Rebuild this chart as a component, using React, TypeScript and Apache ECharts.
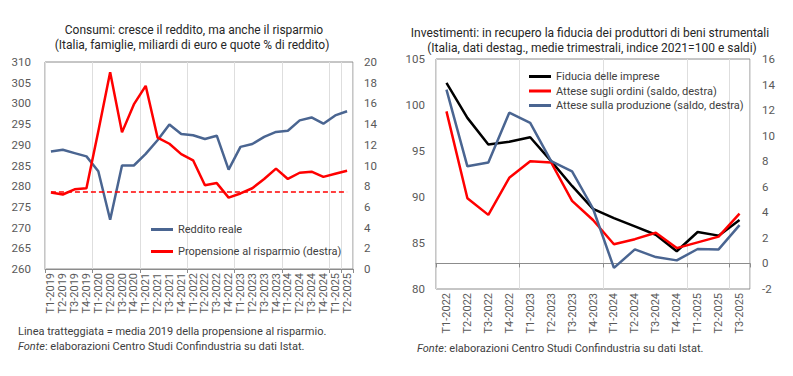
import React, { useEffect, useRef } from "react";
import * as echarts from "echarts";

// ---------- Left chart data ----------
const trimestriSx = [
  "T1-2019", "T2-2019", "T3-2019", "T4-2019",
  "T1-2020", "T2-2020", "T3-2020", "T4-2020",
  "T1-2021", "T2-2021", "T3-2021", "T4-2021",
  "T1-2022", "T2-2022", "T3-2022", "T4-2022",
  "T1-2023", "T2-2023", "T3-2023", "T4-2023",
  "T1-2024", "T2-2024", "T3-2024", "T4-2024",
  "T1-2025", "T2-2025",
];
const redditoReale = [
  288.4, 288.8, 288.0, 287.2, 283.6, 271.9, 285.0, 285.0, 287.8, 291.1,
  294.9, 292.6, 292.3, 291.4, 292.2, 284.0, 289.5, 290.2, 291.9, 293.1,
  293.4, 295.9, 296.6, 295.1, 297.1, 298.1,
];
const propensioneRisparmio = [
  7.4, 7.2, 7.7, 7.8, 13.3, 19.0, 13.2, 15.9, 17.7, 12.7,
  12.1, 11.1, 10.5, 8.1, 8.3, 6.9, 7.3, 7.8, 8.7, 9.7,
  8.7, 9.3, 9.4, 8.9, 9.2, 9.5,
];
const MEDIA_2019 = 7.45;
const ticksSxSinistra = { min: 260, max: 310, interval: 5 };
const ticksSxDestra = { min: 0, max: 20, interval: 2 };

// ---------- Right chart data ----------
const trimestriDx = [
  "T1-2022", "T2-2022", "T3-2022", "T4-2022",
  "T1-2023", "T2-2023", "T3-2023", "T4-2023",
  "T1-2024", "T2-2024", "T3-2024", "T4-2024",
  "T1-2025", "T2-2025", "T3-2025",
];
const fiduciaImprese = [
  102.4, 98.6, 95.7, 96.0, 96.5, 93.9, 91.2, 88.7, 87.7, 86.8, 85.9, 84.1, 86.2, 85.8, 87.5,
];
const atteseOrdini = [
  11.9, 5.1, 3.8, 6.7, 8.0, 7.9, 4.9, 3.4, 1.5, 1.9, 2.4, 1.2, 1.65, 2.1, 3.9,
];
const atteseProduzione = [
  13.6, 7.6, 7.9, 11.8, 11.0, 8.0, 7.2, 4.3, -0.35, 1.1, 0.5, 0.24, 1.13, 1.1, 3.0,
];
const ticksDxSinistra = { min: 80, max: 105, interval: 5 };
const ticksDxDestra = { min: -2, max: 16, interval: 2 };

const BLUE = "#4a6591";
const RED = "#ff0000";
const BLACK = "#000000";
const AXIS_GREY = "#8c8c8c";
const LABEL = "#595959";
const FONT = "Roboto";

function xAxisFor(gridIndex: number, data: string[]) {
  return {
    type: "category" as const,
    gridIndex,
    data,
    boundaryGap: true,
    axisLine: { show: true, lineStyle: { color: AXIS_GREY, width: 1 } },
    axisTick: { show: true, interval: 3, length: 4, lineStyle: { color: AXIS_GREY } },
    axisLabel: { interval: 0, rotate: 90, fontSize: 11, color: LABEL, margin: 4, fontFamily: FONT },
    splitLine: { show: true, interval: 3, lineStyle: { color: "#dedede", width: 1 } },
  };
}

function yAxisFor(
  gridIndex: number,
  position: "left" | "right",
  t: { min: number; max: number; interval: number },
  margin: number
) {
  return {
    type: "value" as const,
    gridIndex,
    position,
    min: t.min,
    max: t.max,
    interval: t.interval,
    axisLine: { show: false },
    axisTick: { show: false },
    splitLine: { show: false },
    axisLabel: { fontSize: 11.5, color: LABEL, margin, fontFamily: FONT },
  };
}

function txt(x: number, y: number, text: string, size: number, fill: string, align = "center") {
  return {
    type: "text",
    silent: true,
    style: {
      x, y, text,
      align, verticalAlign: "middle",
      fontSize: size, fill, fontFamily: FONT,
      rich: { i: { fontStyle: "italic", fontSize: size, fill, fontFamily: FONT } },
    },
  };
}

export default function App() {
  const ref = useRef<HTMLDivElement>(null);

  useEffect(() => {
    if (!ref.current) return;
    const chart = echarts.init(ref.current, undefined, { renderer: "svg" });
    const lineBase = { type: "line" as const, symbol: "none", smooth: false, silent: true };
    const legendText = { fontSize: 11, color: "#404040", fontFamily: FONT };

    chart.setOption({
      animation: false,
      textStyle: { fontFamily: FONT },
      grid: [
        { left: 45, top: 62, width: 308, height: 207, show: true, borderColor: AXIS_GREY, borderWidth: 1, backgroundColor: "transparent" },
        { left: 436, top: 59, width: 314, height: 230, show: true, borderColor: AXIS_GREY, borderWidth: 1, backgroundColor: "transparent" },
      ],
      xAxis: [xAxisFor(0, trimestriSx), xAxisFor(1, trimestriDx)],
      yAxis: [
        yAxisFor(0, "left", ticksSxSinistra, 14),
        yAxisFor(0, "right", ticksSxDestra, 11),
        yAxisFor(1, "left", ticksDxSinistra, 11),
        yAxisFor(1, "right", ticksDxDestra, 12),
      ],
      legend: [
        {
          left: 146,
          top: 219,
          orient: "vertical",
          itemGap: 11,
          itemWidth: 22,
          itemHeight: 3,
          icon: "rect",
          textStyle: legendText,
          data: ["Reddito reale", "Propensione al risparmio (destra)"],
          selectedMode: false,
        },
        {
          left: 524,
          top: 66,
          orient: "vertical",
          itemGap: 3.5,
          itemWidth: 22,
          itemHeight: 3,
          icon: "rect",
          textStyle: legendText,
          data: [
            "Fiducia delle imprese",
            "Attese sugli ordini (saldo, destra)",
            "Attese sulla produzione (saldo, destra)",
          ],
          selectedMode: false,
        },
      ],
      series: [
        {
          ...lineBase,
          name: "Reddito reale",
          xAxisIndex: 0,
          yAxisIndex: 0,
          data: redditoReale,
          lineStyle: { color: BLUE, width: 2.5 },
          itemStyle: { color: BLUE },
          z: 3,
        },
        {
          ...lineBase,
          name: "Propensione al risparmio (destra)",
          xAxisIndex: 0,
          yAxisIndex: 1,
          data: propensioneRisparmio,
          lineStyle: { color: RED, width: 2.5 },
          itemStyle: { color: RED },
          z: 4,
          markLine: {
            silent: true,
            symbol: "none",
            label: { show: false },
            lineStyle: { color: RED, type: [5, 3], width: 1.5 },
            data: [[{ coord: [0, MEDIA_2019] }, { coord: [trimestriSx.length - 1, MEDIA_2019] }]],
          },
        },
        {
          ...lineBase,
          name: "Fiducia delle imprese",
          xAxisIndex: 1,
          yAxisIndex: 2,
          data: fiduciaImprese,
          lineStyle: { color: BLACK, width: 2.5 },
          itemStyle: { color: BLACK },
          z: 3,
        },
        {
          ...lineBase,
          name: "Attese sugli ordini (saldo, destra)",
          xAxisIndex: 1,
          yAxisIndex: 3,
          data: atteseOrdini,
          lineStyle: { color: RED, width: 2.5 },
          itemStyle: { color: RED },
          z: 4,
        },
        {
          ...lineBase,
          name: "Attese sulla produzione (saldo, destra)",
          xAxisIndex: 1,
          yAxisIndex: 3,
          data: atteseProduzione,
          lineStyle: { color: BLUE, width: 2.5 },
          itemStyle: { color: BLUE },
          z: 5,
        },
      ],
      graphic: [
        txt(194, 30, "Consumi: cresce il reddito, ma anche il risparmio", 12, "#262626"),
        txt(192, 44.5, "(Italia, famiglie, miliardi di euro e quote % di reddito)", 12, "#262626"),
        txt(590, 33, "Investimenti: in recupero la fiducia dei produttori di beni strumentali", 12, "#262626"),
        txt(592, 48, "(Italia, dati destag., medie trimestrali, indice 2021=100 e saldi)", 12, "#262626"),
        txt(18, 331.5, "Linea tratteggiata = media 2019 della propensione al risparmio.", 11, "#404040", "left"),
        txt(18, 346, "{i|Fonte}: elaborazioni Centro Studi Confindustria su dati Istat.", 11, "#404040", "left"),
        txt(417, 348, "{i|Fonte}: elaborazioni Centro Studi Confindustria su dati Istat.", 11, "#404040", "left"),
      ],
    });

    return () => chart.dispose();
  }, []);

  return <div ref={ref} style={{ width: 793, height: 376, position: "absolute", left: 0, top: 0, background: "#ffffff" }} />;
}
